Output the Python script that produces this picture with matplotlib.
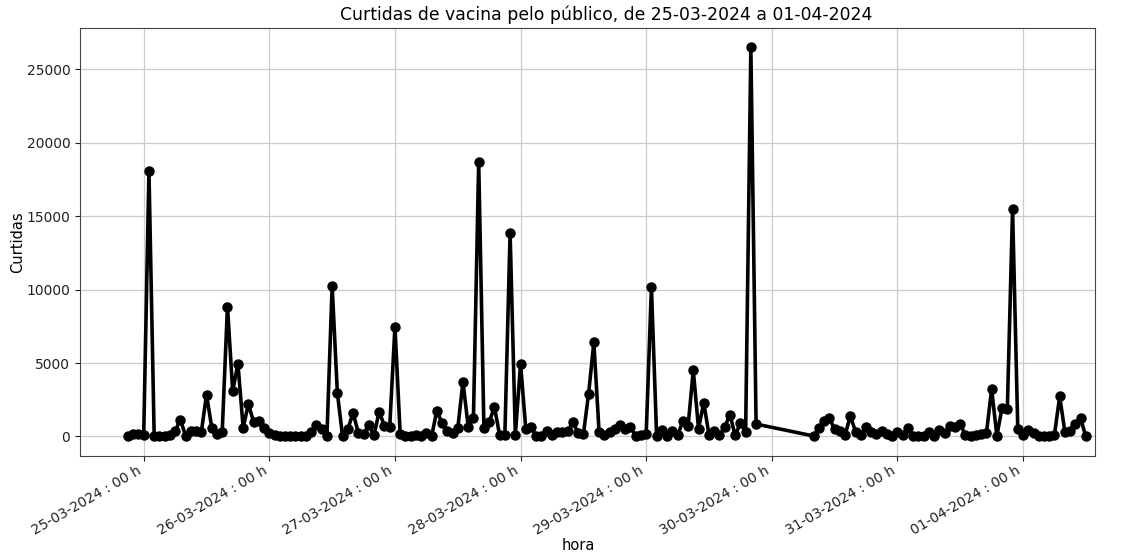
import matplotlib
matplotlib.use('Agg')
import matplotlib.pyplot as plt
import matplotlib.dates as mdates
import numpy as np
import pandas as pd

# Curtidas por hora (primeiro bloco comeca em 24-03-2024 21h)
inicio_parte1 = '2024-03-24 21:00'
curtidas_parte1 = [
    60, 150, 170, 120, 18050, 20, 30, 60, 100, 350, 1150, 50, 400, 350, 280,
    2850, 600, 200, 330, 8850, 3100, 4950, 600, 2200, 1000, 1080, 600,
    250, 100, 50, 20, 20, 30, 30, 40, 280, 780, 500, 0, 10260, 2950, 0, 500,
    1600, 250, 160, 770, 90, 1700, 700, 640,
    7470, 160, 0, 0, 90, 0, 230, 0, 1760, 890, 390, 270, 545, 3720, 660, 1280,
    18710, 570, 960, 2020, 90, 90, 13870, 130,
    4940, 510, 615, 0, 0, 370, 100, 285, 300, 350, 970, 250, 140, 2900, 6420,
    300, 80, 310, 540, 790, 540, 650, 40, 110, 140,
    10150, 0, 460, 0, 345, 70, 1035, 690, 4500, 530, 2300, 115, 390, 115, 620,
    1495, 70, 920, 300, 26490, 845,
]
# segundo bloco, depois da falha de dados (30-03-2024 08h)
inicio_parte2 = '2024-03-30 08:00'
curtidas_parte2 = [
    30, 570, 1030, 1250, 480, 390, 100, 1390, 330, 120, 615, 310, 200, 370,
    200, 40,
    285, 80, 570, 0, 50, 0, 280, 50, 450, 210, 690, 650, 850, 80, 20, 110, 180,
    220, 3220, 50, 1960, 1870, 15460, 480,
    80, 410, 220, 50, 0, 50, 100, 2730, 310, 390, 880, 1230, 0,
]

horas = pd.date_range(inicio_parte1, periods=len(curtidas_parte1), freq='h').append(
    pd.date_range(inicio_parte2, periods=len(curtidas_parte2), freq='h'))
serie = pd.Series(curtidas_parte1 + curtidas_parte2, index=horas)

fig = plt.figure(figsize=(11.24, 5.56), dpi=100)
ax = fig.add_axes([0.0712, 0.18, 0.9030, 0.7696])

ax.plot(serie.index, serie.values, color='black', linewidth=2.6,
        marker='o', markersize=6.5, zorder=3)

ax.set_xlim(pd.Timestamp('2024-03-24 11:50'), pd.Timestamp('2024-04-01 13:45'))
ax.xaxis.set_major_locator(mdates.DayLocator())
ax.xaxis.set_major_formatter(mdates.DateFormatter('%d-%m-%Y : %H h'))
plt.setp(ax.get_xticklabels(), rotation=30, ha='right')

ax.grid(True, color='#cccccc', linewidth=0.9)
ax.set_axisbelow(True)
for s in ax.spines.values():
    s.set_color('#444444')
ax.tick_params(labelsize=10, colors='#222222')
ax.tick_params(axis='x', pad=2)

ax.set_title('Curtidas de vacina pelo público, de 25-03-2024 a 01-04-2024',
             fontsize=12.4, x=0.518)
ax.set_xlabel('hora', fontsize=10.5, labelpad=0.5, x=0.491)
ax.set_ylabel('Curtidas', fontsize=10.5, labelpad=1)

plt.savefig('out.png', dpi=100)
